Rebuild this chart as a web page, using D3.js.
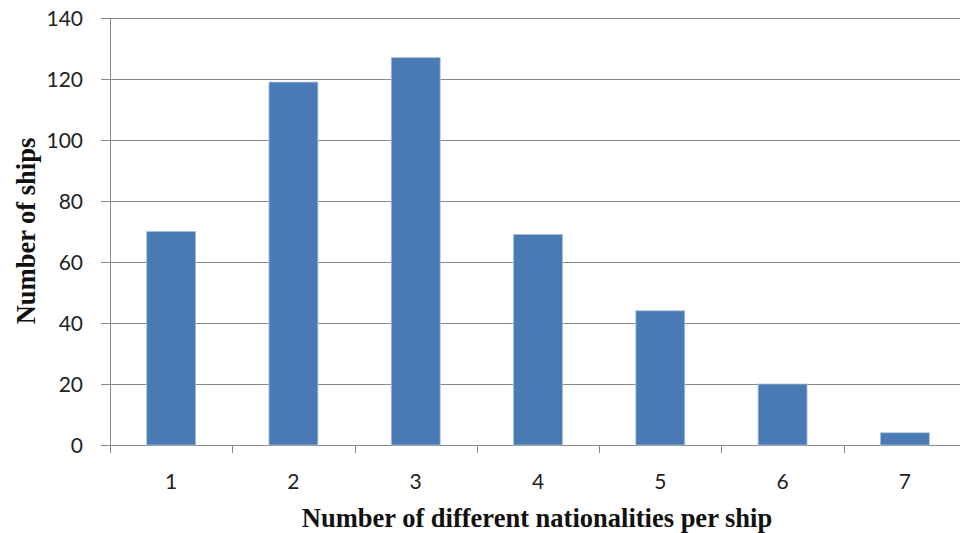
<!DOCTYPE html>
<html><head><meta charset="utf-8">
<script src="https://d3js.org/d3.v7.min.js"></script>
<style>body{margin:0;background:#fff}</style>
</head><body>
<svg id="chart" width="960" height="533"></svg>
<script>
var categories=['1','2','3','4','5','6','7'];
var ships=[70,119,127,69,44,20,4];
var yTicks=[0,20,40,60,80,100,120,140];

var ML=110, MT=18, PW=856, PH=427;
var svg=d3.select('#chart');
var g=svg.append('g').attr('transform','translate('+ML+','+MT+')');
var x=d3.scaleBand().domain(categories).range([0,PW]).paddingInner(0.6).paddingOuter(0.3);
var xb=d3.scaleBand().domain(categories).range([0,PW]);
var y=d3.scaleLinear().domain([0,140]).range([PH,0]);

/* gridlines */
g.selectAll('.grid').data(yTicks).enter().append('line')
  .attr('x1',-9).attr('x2',PW).attr('y1',function(d){return y(d)+0.5}).attr('y2',function(d){return y(d)+0.5})
  .attr('stroke','#8a8a8a').attr('stroke-width',1);
/* y axis line */
g.append('line').attr('x1',0.5).attr('x2',0.5).attr('y1',0).attr('y2',PH+8).attr('stroke','#8a8a8a');
/* x ticks */
g.selectAll('.xt').data(categories.slice(1)).enter().append('line')
  .attr('x1',function(d){return Math.round(xb(d))+0.5}).attr('x2',function(d){return Math.round(xb(d))+0.5})
  .attr('y1',PH).attr('y2',PH+8).attr('stroke','#8a8a8a');

/* bars */
g.selectAll('.bar').data(ships).enter().append('rect')
  .attr('x',function(d,i){return x(categories[i])}).attr('width',x.bandwidth())
  .attr('y',function(d){return y(d)}).attr('height',function(d){return PH-y(d)})
  .attr('fill','#4a7ab3').attr('stroke','#a9c0dd').attr('stroke-width',0.8);

/* tick labels */
g.selectAll('.yl').data(yTicks).enter().append('text')
  .attr('x',-27).attr('y',function(d){return y(d)+8}).attr('text-anchor','end')
  .attr('font-family','Lato, "Open Sans", sans-serif').attr('font-size','21px').attr('fill','#222')
  .text(function(d){return d});
g.selectAll('.xl').data(categories).enter().append('text')
  .attr('x',function(d){return xb(d)+xb.bandwidth()/2}).attr('y',PH+44).attr('text-anchor','middle')
  .attr('font-family','Lato, "Open Sans", sans-serif').attr('font-size','21px').attr('fill','#222')
  .text(function(d){return d});

/* axis titles */
svg.append('text').attr('x',537).attr('y',527).attr('text-anchor','middle')
  .attr('font-family','"Liberation Serif", serif').attr('font-weight','bold').attr('font-size','26.5px').attr('fill','#111')
  .text('Number of different nationalities per ship');
svg.append('text').attr('transform','translate(35,231) rotate(-90)').attr('text-anchor','middle')
  .attr('font-family','"Liberation Serif", serif').attr('font-weight','bold').attr('font-size','26.5px').attr('fill','#111')
  .text('Number of ships');
</script>
</body></html>
